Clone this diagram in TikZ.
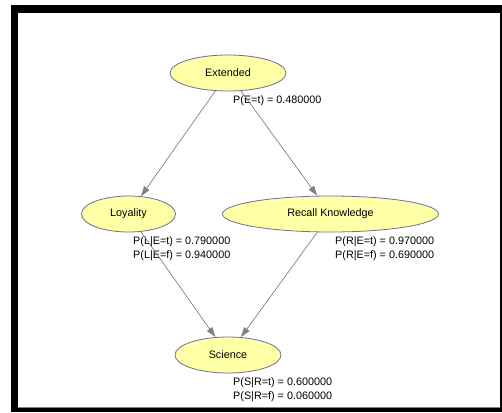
\documentclass[tikz,border=0pt]{standalone}
\usepackage{fontspec}
\setmainfont{Liberation Sans}
\usepackage{tikz}
\usetikzlibrary{arrows.meta,shapes.geometric}

\definecolor{nodefill}{RGB}{255,255,165}
\definecolor{nodeline}{RGB}{110,110,150}
\definecolor{edgegray}{RGB}{130,130,130}

\tikzset{
  bnode/.style={ellipse, draw=nodeline, fill=nodefill, line width=0.8pt,
    minimum height=36pt, inner sep=0pt, font=\fontsize{10.8}{14}\selectfont},
  cpt/.style={anchor=west, inner sep=0pt, align=left,
    font=\fontsize{10.8}{14}\selectfont},
  edge/.style={draw=edgegray, line width=0.7pt,
    -{Triangle[length=10pt,width=6.5pt,fill=edgegray]}}
}

\begin{document}
\begin{tikzpicture}[x=1pt, y=-1pt, line join=round]
\useasboundingbox (0,0) rectangle (502,412);
% frame
\fill[black] (11,5) rectangle (502,412);
\fill[white] (18,13) rectangle (500,407);
\draw[gray, line width=0.6pt] (18,407)--(500,407);
% nodes
\node[bnode, minimum width=116pt] (ext) at (228,73) {Extended};
\node[bnode, minimum width=94pt] (loy) at (128.5,214) {Loyality};
\node[bnode, minimum width=216pt] (rec) at (330.5,214) {Recall Knowledge};
\node[bnode, minimum width=106pt] (sci) at (228,355) {Science};
% tables
\node[cpt] (extcpt) at (233,101) {P(E=t) = 0.480000};
\node[cpt] (loycpt) at (133,249) {P(L|E=t) = 0.790000\\P(L|E=f) = 0.940000};
\node[cpt] (reccpt) at (335,249) {P(R|E=t) = 0.970000\\P(R|E=f) = 0.690000};
\node[cpt] (scicpt) at (233,390) {P(S|R=t) = 0.600000\\P(S|R=f) = 0.060000};
% edges
\draw[edge] (ext) -- (loy);
\draw[edge] (ext) -- (rec);
\draw[edge] (loy) -- (sci);
\draw[edge] (rec) -- (sci);
\end{tikzpicture}
\end{document}
